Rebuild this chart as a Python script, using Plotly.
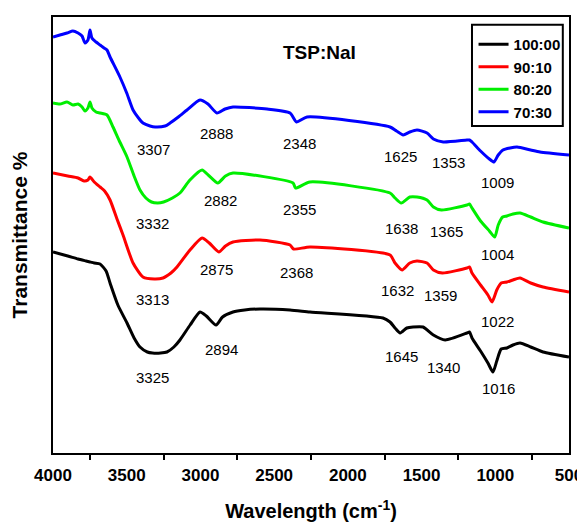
import plotly.graph_objects as go

# ---------------- data (wavenumber cm^-1, transmittance a.u.) ----------------
series_names = ["100:00", "90:10", "80:20", "70:30"]
series_colors = ["#000000", "#FF0000", "#00EE00", "#0000FF"]

wn_black = [4000, 3900, 3830, 3776, 3749, 3720, 3681, 3640, 3613, 3560, 3498, 3450, 3410, 3360,
            3325, 3270, 3227, 3180, 3139, 3070, 3003, 2960, 2894, 2850, 2779, 2700, 2596, 2392,
            2257, 1762, 1714, 1680, 1645, 1600, 1558, 1490, 1420, 1340, 1192, 1175, 1158, 1100,
            1050, 1016, 990, 960, 921, 880, 832, 760, 676, 500]
t_black = [201, 197, 194, 192, 191, 190, 189, 182, 170, 148, 130, 115, 106, 101,
           100, 100, 101, 106, 113, 128, 141, 137, 128, 136, 141, 143, 144, 143,
           141, 135, 131, 125, 120, 125, 126, 126, 118, 113, 120, 121, 115, 102,
           90, 81, 92, 104, 105, 108, 110, 106, 101, 96]

wn_red = [4000, 3900, 3830, 3790, 3763, 3749, 3720, 3681, 3650, 3613, 3566, 3525, 3457, 3390,
          3313, 3254, 3200, 3159, 3071, 2989, 2940, 2875, 2830, 2779, 2596, 2392, 2368, 2257,
          1714, 1680, 1632, 1580, 1531, 1463, 1420, 1359, 1192, 1175, 1158, 1100, 1050, 1022,
          990, 960, 921, 880, 832, 760, 676, 500]
t_red = [280, 277, 275, 272, 273, 276, 271, 266, 262, 253, 234, 218, 190, 176,
         174, 175, 180, 186, 203, 215, 210, 201, 207, 211, 213, 208, 204, 206,
         198, 190, 183, 190, 192, 190, 183, 180, 185, 186, 180, 168,
         158, 151, 163, 170, 171, 173, 175, 170, 166, 161]

wn_green = [4000, 3953, 3905, 3865, 3830, 3803, 3783, 3763, 3749, 3736, 3708, 3681, 3634,
            3593, 3550, 3498, 3450, 3410, 3370, 3332, 3290, 3250, 3190, 3139, 3071, 2989, 2940,
            2882, 2830, 2779, 2372, 2355, 2257, 1714, 1680, 1638, 1580, 1531, 1463, 1420, 1365,
            1192, 1175, 1158, 1100, 1040, 1004, 980, 950, 921, 880, 832, 760, 676, 500]
t_green = [350, 349, 351, 348, 349, 346, 342, 345, 351, 345, 341, 340, 338,
           326, 312, 296, 277, 263, 255, 251, 250, 251, 255, 260, 273, 283, 277,
           270, 277, 280, 270, 265, 271, 260, 255, 250, 256, 256, 253, 246, 243,
           248, 249, 245, 232, 222, 216, 228, 236, 237, 239, 240, 236, 231, 225]

wn_blue = [4000, 3953, 3905, 3865, 3830, 3803, 3783, 3763, 3749, 3736, 3708, 3681, 3654,
           3634, 3613, 3546, 3500, 3457, 3420, 3390, 3342, 3307, 3240, 3206, 3150, 3091, 3003,
           2949, 2888, 2833, 2779, 2548, 2392, 2348, 2277, 1714, 1670, 1625, 1580, 1531, 1463,
           1420, 1353, 1192, 1175, 1158, 1100, 1040, 1009, 980, 948, 900, 853, 760, 697, 500]
t_blue = [416, 418, 420, 422, 420, 417, 410, 413, 423, 415, 411, 408, 405,
          403, 396, 376, 360, 343, 335, 330, 327, 326, 327, 330, 336, 343, 353,
          349, 340, 344, 346, 344, 340, 331, 336, 326, 322, 318, 321, 323, 320,
          314, 311, 313, 313, 311, 302, 294, 291, 298, 303, 305, 306, 303, 301, 298]

peaks_black = ["3325", "2894", "1645", "1340", "1016"]
peaks_red = ["3313", "2875", "2368", "1632", "1359", "1022"]
peaks_green = ["3332", "2882", "2355", "1638", "1365", "1004"]
peaks_blue = ["3307", "2888", "2348", "1625", "1353", "1009"]

x_ticks = [4000, 3500, 3000, 2500, 2000, 1500, 1000, 500]
x_minor = [3750, 3250, 2750, 2250, 1750, 1250, 750]

# label placement (x in cm^-1, y in a.u.) -- layout only
pos_black = [(3328, 76), (2854, 104), (1633, 97), (1348, 86), (975, 65)]
pos_red = [(3322, 154), (2888, 184), (2345, 181), (1660, 163), (1375, 158), (988, 132)]
pos_green = [(3328, 230), (2867, 253), (2325, 244), (1633, 225), (1334, 222), (982, 199)]
pos_blue = [(3321, 304), (2888, 320), (2325, 310), (1646, 297), (1314, 291), (988, 271)]

FONT = "Arial, Liberation Sans, sans-serif"

fig = go.Figure()
for name, color, wx, ty in zip(series_names, series_colors,
                               [wn_black, wn_red, wn_green, wn_blue],
                               [t_black, t_red, t_green, t_blue]):
    fig.add_trace(go.Scatter(x=wx, y=ty, mode="lines", name=name,
                             line=dict(color=color, width=3, shape="spline", smoothing=0.6)))

annotations = []
for labels, poss in [(peaks_black, pos_black), (peaks_red, pos_red),
                     (peaks_green, pos_green), (peaks_blue, pos_blue)]:
    for lab, (px, py) in zip(labels, poss):
        annotations.append(dict(x=px, y=py, text=lab, showarrow=False,
                                font=dict(size=15, color="black", family=FONT),
                                xref="x", yref="y"))
annotations.append(dict(x=2195, y=401, text="<b>TSP:NaI</b>", showarrow=False,
                        font=dict(size=19, color="black", family=FONT),
                        xref="x", yref="y"))

# the page body adds an 8px margin, so the figure is 8px smaller than the window
fig.update_layout(
    width=577, height=515,
    margin=dict(l=45, r=16, t=9, b=70),
    paper_bgcolor="white", plot_bgcolor="white",
    font=dict(family=FONT, color="black"),
    showlegend=True,
    legend=dict(x=0.815, y=0.975, xanchor="left", yanchor="top",
                bgcolor="rgba(0,0,0,0)", borderwidth=0,
                font=dict(size=15, family=FONT, weight="bold"),
                tracegroupgap=0, itemwidth=30),
    annotations=annotations,
    shapes=[dict(type="rect", xref="paper", yref="paper",
                 x0=0.812, x1=0.988, y0=0.75, y1=0.982,
                 line=dict(color="black", width=2))],
    xaxis=dict(range=[4000, 500], tickvals=x_ticks, ticktext=[str(v) for v in x_ticks],
               ticks="", showgrid=False, zeroline=False, automargin=False,
               showline=True, linecolor="black", linewidth=2, mirror=True,
               ticklabelstandoff=6,
               tickfont=dict(size=17, family=FONT, weight="bold"),
               minor=dict(tickvals=x_minor, ticks="outside", ticklen=5,
                          tickwidth=2, tickcolor="black", showgrid=False),
               title=dict(text="Wavelength (cm<sup>-1</sup>)",
                          font=dict(size=20, family=FONT, weight="bold"),
                          standoff=20)),
    yaxis=dict(range=[0, 436], showticklabels=False, ticks="", showgrid=False,
               zeroline=False, automargin=False,
               showline=True, linecolor="black", linewidth=2,
               mirror=True,
               title=dict(text="Transmittance %",
                          font=dict(size=21, family=FONT, weight="bold"),
                          standoff=18)),
)

fig.write_html("out.html")
